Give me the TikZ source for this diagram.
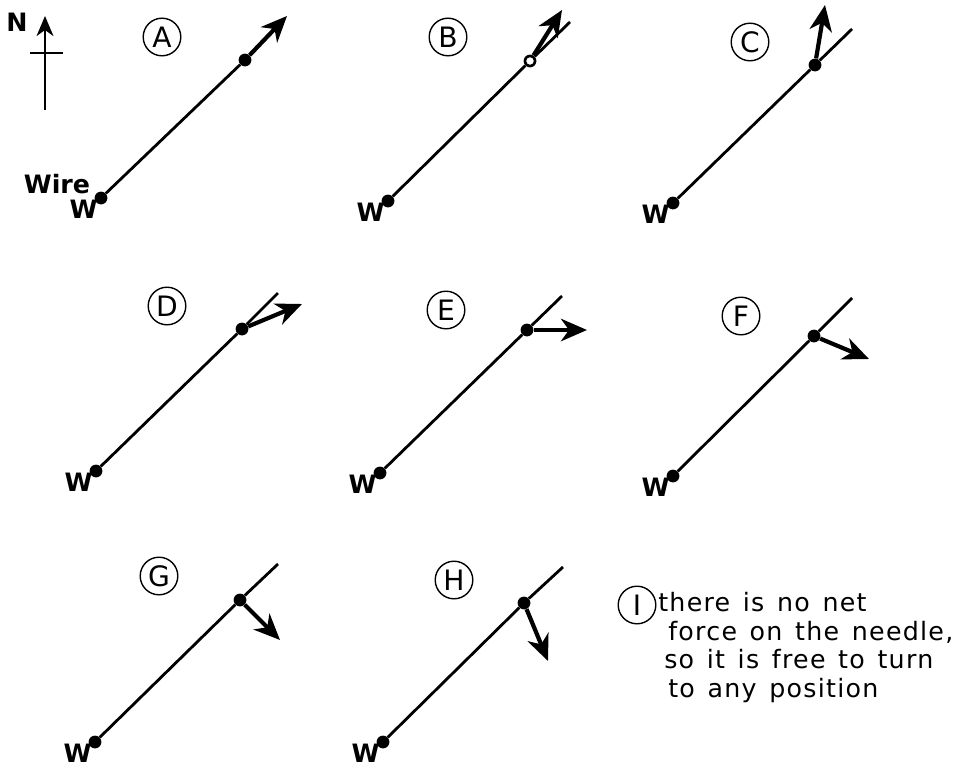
\documentclass[tikz,border=0pt]{standalone}
\usepackage{fontspec}
\setmainfont{DejaVu Sans}
\newfontfamily\notefont[LetterSpace=5]{DejaVu Sans}
\newcommand{\notesetup}{\fontsize{18}{20.3}\notefont\spaceskip=0.5em\relax}
\usepackage{tikz}
\usetikzlibrary{positioning, arrows.meta, calc}

\begin{document}
\begin{tikzpicture}[
    x=0.25mm, y=-0.25mm,
    wire/.style={line width=0.7mm, draw=black},
    needle/.style={-{Stealth[length=6.5mm, width=5.6mm, inset=2mm]}, line width=1.05mm, draw=black},
    dot/.style={circle, fill=black, inner sep=0pt, minimum size=3.2mm},
    ring/.style={circle, draw=black, fill=white, line width=0.45mm, inner sep=0pt, minimum size=2.4mm},
    letter/.style={circle, draw=black, line width=0.35mm, inner sep=0pt, minimum size=9.4mm, font=\fontsize{20}{20}\selectfont},
    wtext/.style={font=\fontsize{18}{18}\selectfont\bfseries, inner sep=0pt},
    note/.style={font=\notesetup, align=left, inner sep=0pt}
]
    \useasboundingbox (0,0) rectangle (965,768);

    % compass
    \coordinate (south) at (45,110);
    \coordinate (north) at (45,16);
    \coordinate (west) at (30,53);
    \coordinate (east) at (63,53);
    \draw [needle, line width=0.6mm, -{Stealth[length=5mm, width=4.2mm, inset=1.5mm]}] (south) -- (north);
    \draw [wire, line width=0.5mm] (west) -- (east);
    \node [wtext] (N) at (17,22) {N};

    % panels: name / wire end W / needle / far end / arrow tip / letter
    \foreach \p/\wx/\wy/\nx/\ny/\ex/\ey/\tx/\ty/\lx/\ly in {
        A/101/198/245/60/245/60/287/16/162/37,
        B/388/201/530/61/570/22/562/10/448/37,
        C/673/203/815/65/852/29/825/5/750/42,
        D/96/471/242/329/278/293/302/304/167/306,
        E/380/473/527/330/562/296/587/330/446/310,
        F/673/476/814/336/852/298/869/359/741/316,
        G/95/742/240/600/278/564/280/640/159/576,
        H/383/742/524/603/563/567/548/661/454/580} {
        \node [dot, label={[wtext, label distance=-0.8mm]208:W}] (w\p) at (\wx,\wy) {};
        \node [dot] (n\p) at (\nx,\ny) {};
        \coordinate (e\p) at (\ex,\ey);
        \coordinate (t\p) at (\tx,\ty);
        \draw [wire] (w\p) -- (n\p) -- (e\p);
        \draw [needle] (n\p) -- (t\p);
        \node [letter] (lab\p) at (\lx,\ly) {\p};
    }
    \node [ring] (ringB) at (nB) {};

    \node [wtext] (wirelab) at (57,184) {Wire};

    % no net force
    \node [letter] (labI) at (637,605) {I};
    \node [note, anchor=north west] (notI) at (658,592) {there is no net\\
        \hspace*{2.5mm}force on the needle,\\
        \hspace*{1.5mm}so it is free to turn\\
        \hspace*{2.5mm}to any position};
\end{tikzpicture}
\end{document}
